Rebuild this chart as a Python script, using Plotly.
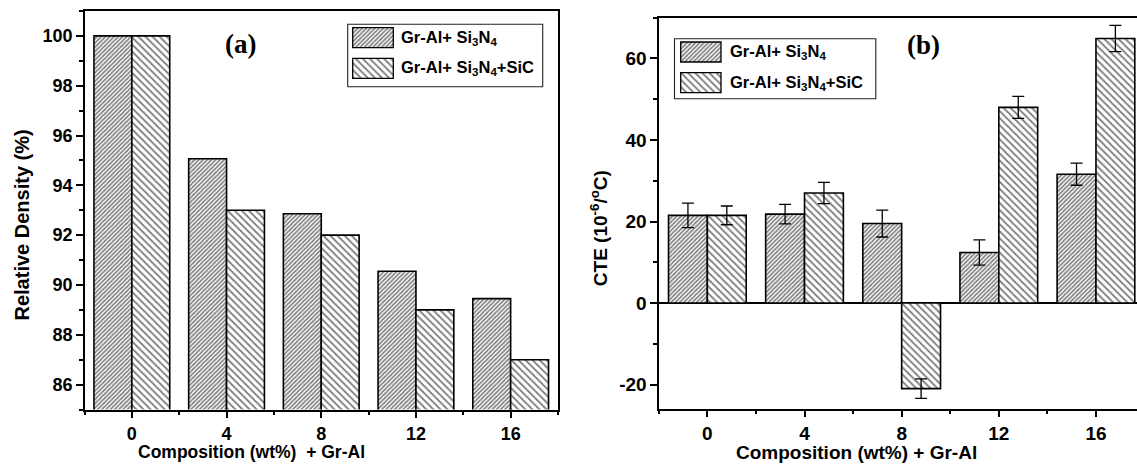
import plotly.graph_objects as go

# ---- data -------------------------------------------------------------
composition = [0, 4, 8, 12, 16]

density_si3n4 = [100.0, 95.07, 92.86, 90.55, 89.45]
density_si3n4_sic = [100.0, 93.0, 92.0, 89.0, 87.0]

cte_si3n4 = [21.5, 21.8, 19.5, 12.4, 31.6]
cte_si3n4_err = [3.0, 2.4, 3.3, 3.1, 2.7]
cte_si3n4_sic = [21.5, 27.0, -21.0, 48.0, 64.9]
cte_si3n4_sic_err = [2.3, 2.6, 2.4, 2.7, 3.2]

density_ticks = [86, 88, 90, 92, 94, 96, 98, 100]
cte_ticks = [-20, 0, 20, 40, 60]

series_labels = [
    "Gr-Al+ Si<sub>3</sub>N<sub>4</sub>",
    "Gr-Al+ Si<sub>3</sub>N<sub>4</sub>+SiC",
]

# ---- canvas / styling -------------------------------------------------
W, H = 1137, 465
SANS = "Liberation Sans, Arial, sans-serif"
SERIF = "Liberation Serif, Times New Roman, serif"


def fx(x):
    return x / W


def fy(y):
    return 1 - y / H


def bold_labels(vals):
    return ["<b>%s</b>" % v for v in vals]


# pattern size is the perpendicular line spacing; stroke = solidity * size
hatch_dense = dict(shape="/", size=3, solidity=0.55, fgcolor="black", bgcolor="white")
hatch_sparse = dict(shape="\\", size=5, solidity=0.36, fgcolor="black", bgcolor="white")
patterns = [hatch_dense, hatch_sparse]
outline = dict(color="black", width=1.6)


def errbar(vals):
    return dict(type="data", array=vals, visible=True, color="black", thickness=1.3, width=6)


fig = go.Figure()

# (a) relative density
for vals, pat, name in zip([density_si3n4, density_si3n4_sic], patterns, series_labels):
    fig.add_trace(go.Bar(
        x=composition, y=vals, name=name, showlegend=False,
        marker=dict(color="white", pattern=pat, line=outline),
        xaxis="x", yaxis="y",
    ))

# (b) CTE with error bars
for vals, errs, pat, name in zip([cte_si3n4, cte_si3n4_sic],
                                 [cte_si3n4_err, cte_si3n4_sic_err],
                                 patterns, series_labels):
    fig.add_trace(go.Bar(
        x=composition, y=vals, name=name, showlegend=False,
        error_y=errbar(errs),
        marker=dict(color="white", pattern=pat, line=outline),
        xaxis="x2", yaxis="y2",
    ))

# ---- legend keys, drawn on a pixel-space overlay axis -------------------
legend_boxes = [
    dict(box=(347.7, 24.3, 542.7, 86.7), key_x=352.7, key_w=40.6, key_y=[27.7, 58.3], text_x=399),
    dict(box=(674.5, 38.7, 875.8, 98.7), key_x=680.7, key_w=40.3, key_y=[42.0, 72.7], text_x=727.5),
]
KEY_H = 20

annotations = []
shapes = []
for lg in legend_boxes:
    x0, y0, x1, y1 = lg["box"]
    shapes.append(dict(type="rect", xref="paper", yref="paper",
                       x0=fx(x0), x1=fx(x1), y0=fy(y1), y1=fy(y0),
                       line=dict(color="#222", width=1.1), fillcolor="rgba(0,0,0,0)",
                       layer="above"))
    for ky, pat, label in zip(lg["key_y"], patterns, series_labels):
        fig.add_trace(go.Bar(
            x=[lg["key_x"]], y=[KEY_H], base=[ky], width=[lg["key_w"]], offset=0,
            showlegend=False, hoverinfo="skip",
            marker=dict(color="white", pattern=pat, line=dict(color="black", width=1.3)),
            xaxis="x3", yaxis="y3",
        ))
        annotations.append(dict(
            xref="paper", yref="paper", x=fx(lg["text_x"]), y=fy(ky + KEY_H / 2),
            xanchor="left", yanchor="middle", showarrow=False, text="<b>%s</b>" % label,
            font=dict(family=SANS, size=16.5, color="black"),
        ))

# ---- titles and panel labels --------------------------------------------
def note(text, x, y, size, family=SANS, angle=0):
    annotations.append(dict(
        xref="paper", yref="paper", x=fx(x), y=fy(y), xanchor="center", yanchor="middle",
        showarrow=False, text="<b>%s</b>" % text, textangle=angle,
        font=dict(family=family, size=size, color="black"),
    ))


note("Relative Density (%)", 21.5, 225, 20, angle=-90)
note("Composition (wt%)&nbsp; + Gr-Al", 251, 452, 17.5)
note("CTE (10<sup>-6</sup>/<sup>o</sup>C)", 598.7, 228.5, 19, angle=-90)
note("Composition (wt%) + Gr-Al", 856, 452, 19)
note("(a)", 240, 44, 27, family=SERIF)
note("(b)", 923.5, 45, 27, family=SERIF)

# ---- axes ---------------------------------------------------------------
def xax(domain, rng, fsize):
    return dict(
        domain=domain, range=rng, tickmode="array",
        tickvals=composition, ticktext=bold_labels(composition), ticks="outside",
        ticklen=6.5, tickwidth=1.5, tickcolor="black",
        minor=dict(tick0=0, dtick=2, ticks="outside", ticklen=3.5, tickwidth=1.5, tickcolor="black"),
        showline=True, linewidth=1.8, linecolor="black", mirror=True,
        showgrid=False, zeroline=False,
        tickfont=dict(family=SANS, size=fsize, color="black"),
    )


def yax(domain, rng, ticks, minor_step, fsize, mirror, zeroline):
    return dict(
        domain=domain, range=rng, tickmode="array",
        tickvals=ticks, ticktext=bold_labels(ticks), ticks="outside",
        ticklen=6.5, tickwidth=1.5, tickcolor="black",
        minor=dict(tick0=0, dtick=minor_step, ticks="outside", ticklen=3.5, tickwidth=1.5, tickcolor="black"),
        showline=True, linewidth=1.8, linecolor="black", mirror=mirror,
        showgrid=False, zeroline=zeroline, zerolinecolor="black", zerolinewidth=1.6,
        tickfont=dict(family=SANS, size=fsize, color="black"),
    )


fig.update_layout(
    width=W, height=H,
    margin=dict(l=0, r=0, t=0, b=0),
    paper_bgcolor="white", plot_bgcolor="rgba(0,0,0,0)",
    barmode="group", bargap=0.2, bargroupgap=0,
    xaxis=dict(anchor="y", **xax([fx(84.5), fx(558)], [-2, 18], 18)),
    yaxis=dict(anchor="x", **yax([fy(409.5), fy(11)], [85, 101], density_ticks, 1, 18, True, False)),
    xaxis2=dict(anchor="y2", **xax([fx(658.8), 1.0], [-2, 17.69], 19)),
    yaxis2=dict(anchor="x2", **yax([fy(409), fy(17.7)], [-26, 70], cte_ticks, 10, 19, False, True)),
    xaxis3=dict(domain=[0, 1], range=[0, W], visible=False, fixedrange=True),
    yaxis3=dict(domain=[0, 1], range=[H, 0], visible=False, fixedrange=True, anchor="x3"),
    annotations=annotations,
    shapes=shapes,
    showlegend=False,
)

fig.write_html("out.html")
